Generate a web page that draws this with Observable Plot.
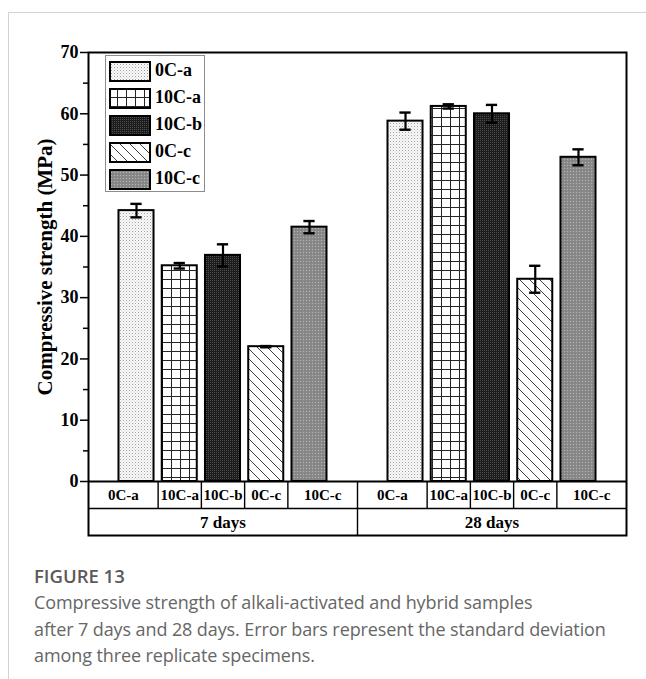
<!DOCTYPE html>
<html>
<head>
<meta charset="utf-8">
<script src="https://cdn.jsdelivr.net/npm/d3@7"></script>
<script src="https://cdn.jsdelivr.net/npm/@observablehq/plot@0.6"></script>
<style>
  html, body { margin: 0; padding: 0; background: #fff; }
  #page { position: relative; width: 646px; height: 679px; overflow: hidden; }
  #card { position: absolute; left: 8px; top: 12px; right: 0; bottom: 0;
          border-left: 1px solid #d2d2d2; border-top: 1px solid #d2d2d2; }
  #chart { position: absolute; left: 0; top: 0; }
  #legend { position: absolute; left: 105px; top: 55px; width: 100px; height: 137px;
            box-sizing: border-box; border: 1px solid #8c8c8c; background: #fff; }
  .entry { position: absolute; left: 2px; height: 20px; width: 96px; }
  .entry svg { position: absolute; left: 0; top: 0; }
  .entry span { position: absolute; left: 47px; top: -1px; line-height: 22px;
                font: bold 18px "Liberation Serif", "Times New Roman", serif; color: #000; white-space: nowrap; }
  #caption { position: absolute; left: 34px; top: 562px; width: 612px;
             font-family: "Open Sans", "Lato", sans-serif; color: #666; }
  #caption .fig { font-size: 18.5px; line-height: 27px; font-weight: 600; color: #5a5a5a; }
  #caption .txt { font-size: 18px; line-height: 26.5px; white-space: nowrap; letter-spacing: -0.1px; }
</style>
</head>
<body>
<div id="page">
  <div id="card"></div>
  <div id="chart"></div>
  <div id="legend"></div>
  <div id="caption">
    <div class="fig">FIGURE 13</div>
    <div class="txt">Compressive strength of alkali-activated and hybrid samples<br>after 7 days and 28 days. Error bars represent the standard deviation<br>among three replicate specimens.</div>
  </div>
</div>
<script>
// ---------- data ----------
const groups = ["7 days", "28 days"];
const samples = ["0C-a", "10C-a", "10C-b", "0C-c", "10C-c"];
const strength7 = [44.2, 35.2, 36.9, 22.0, 41.5];
const strength28 = [58.8, 61.2, 60.0, 33.0, 52.9];
const sd7 = [1.1, 0.45, 1.8, 0.1, 1.0];
const sd28 = [1.4, 0.35, 1.45, 2.2, 1.3];
const yTicks = [0, 10, 20, 30, 40, 50, 60, 70];
const yMinorTicks = [5, 15, 25, 35, 45, 55, 65];
const yLabel = "Compressive strength (MPa)";

// ---------- layout constants ----------
const W = 646, H = 545, ML = 88, MR = 20, MT = 52, MB = 64;
const FRAME_W = W - ML - MR;
const GROUP_STEP = 6.22;       // x units between groups
const GROUP_PAD_L = 1.11, GROUP_PAD_R = 1.11;
const BAR_HALF = 0.405, CAP_HALF = 0.13;
const ROW = 27;                // table row height (px)

const rows = groups.flatMap((g, gi) => samples.map((s, i) => ({
  group: g, gi, i, sample: s,
  pos: gi * GROUP_STEP + i,
  value: gi === 0 ? strength7[i] : strength28[i],
  sd: gi === 0 ? sd7[i] : sd28[i]
})));

const xMin = -GROUP_PAD_L;
const xMax = GROUP_STEP + (samples.length - 1) + GROUP_PAD_R;
const groupDivider = (samples.length - 1 + GROUP_STEP) / 2;
const groupBounds = (gi) => [gi === 0 ? xMin : groupDivider, gi === 0 ? groupDivider : xMax];
const cellCenter = (d) => {
  const [gl, gr] = groupBounds(d.gi);
  const l = d.i === 0 ? gl : d.pos - 0.5;
  const r = d.i === samples.length - 1 ? gr : d.pos + 0.5;
  return (l + r) / 2;
};
const cellDividers = rows.filter(d => d.i < samples.length - 1).map(d => d.pos + 0.5);
const groupCenters = groups.map((g, gi) => ({g, x: (groupBounds(gi)[0] + groupBounds(gi)[1]) / 2}));

const patIds = samples.map((s, i) => `pat${i}`);

const barMarks = samples.map((s, i) =>
  Plot.rectY(rows.filter(d => d.i === i), {
    x1: d => d.pos - BAR_HALF, x2: d => d.pos + BAR_HALF, y1: 0, y2: "value",
    fill: `url(#${patIds[i]})`, stroke: "#000", strokeWidth: 2
  })
);

const svg = Plot.plot({
  width: W, height: H,
  marginLeft: ML, marginRight: MR, marginTop: MT, marginBottom: MB,
  x: {type: "linear", domain: [xMin, xMax], axis: null},
  y: {domain: [0, 70], axis: null},
  style: {fontFamily: "'Liberation Serif', 'Times New Roman', serif", fontWeight: "bold", color: "#000", background: "transparent", overflow: "visible"},
  marks: [
    ...barMarks,
    // error bars
    Plot.ruleX(rows, {x: "pos", y1: d => d.value - d.sd, y2: d => d.value + d.sd, stroke: "#000", strokeWidth: 2.2}),
    Plot.ruleY(rows, {y: d => d.value + d.sd, x1: d => d.pos - CAP_HALF, x2: d => d.pos + CAP_HALF, stroke: "#000", strokeWidth: 2.4}),
    Plot.ruleY(rows, {y: d => d.value - d.sd, x1: d => d.pos - CAP_HALF, x2: d => d.pos + CAP_HALF, stroke: "#000", strokeWidth: 2.4}),
    // y ticks (outward)
    Plot.tickY(yTicks, {y: d => d, insetLeft: -8, insetRight: FRAME_W, stroke: "#000", strokeWidth: 1.5}),
    Plot.tickY(yMinorTicks, {y: d => d, insetLeft: -5, insetRight: FRAME_W, stroke: "#000", strokeWidth: 1.5}),
    Plot.axisY(yTicks, {tickSize: 0, tickPadding: 10, fontSize: 18, fontWeight: "bold", label: null}),
    Plot.text([yLabel], {frameAnchor: "left", dx: -43, rotate: -90, textAnchor: "middle", fontSize: 21, fontWeight: "bold", text: d => d}),
    // table below x axis
    Plot.ruleY([0], {stroke: "#000", strokeWidth: 2}),
    Plot.ruleY([0], {dy: ROW, stroke: "#000", strokeWidth: 1.4}),
    Plot.ruleX(cellDividers, {x: d => d, y1: 0, y2: 0, insetBottom: -ROW, stroke: "#000", strokeWidth: 1.4}),
    Plot.ruleX([groupDivider], {x: d => d, y1: 0, y2: 0, insetBottom: -2 * ROW, stroke: "#000", strokeWidth: 1.4}),
    Plot.text(rows, {x: cellCenter, y: 0, dy: ROW / 2 + 0.5, text: "sample", fontSize: 15, fontWeight: "bold"}),
    Plot.text(groupCenters, {x: "x", y: 0, dy: ROW * 1.5 + 0.5, text: "g", fontSize: 17, fontWeight: "bold"}),
    Plot.frame({stroke: "#000", strokeWidth: 2, insetBottom: -2 * ROW})
  ]
});

// patterns
const defs = d3.select(svg).insert("defs", ":first-child");
function pat(id, w, h) {
  return defs.append("pattern").attr("id", id).attr("patternUnits", "userSpaceOnUse").attr("width", w).attr("height", h);
}
// 0C-a: light stipple
let p = pat(patIds[0], 3, 3);
p.append("rect").attr("width", 3).attr("height", 3).attr("fill", "#f8f8f8");
p.append("rect").attr("width", 1).attr("height", 1).attr("fill", "#a2a2a2");
p.append("rect").attr("x", 1.5).attr("y", 1.5).attr("width", 1).attr("height", 1).attr("fill", "#d0d0d0");
// 10C-a: grid
p = pat(patIds[1], 9, 9);
p.append("rect").attr("width", 9).attr("height", 9).attr("fill", "#fff");
p.append("path").attr("d", "M0,0.5H9M0.5,0V9").attr("stroke", "#262626").attr("stroke-width", 1).attr("fill", "none");
// 10C-b: dark stipple
p = pat(patIds[2], 2, 2);
p.append("rect").attr("width", 2).attr("height", 2).attr("fill", "#1c1c1c");
p.append("rect").attr("width", 1).attr("height", 1).attr("fill", "#4c4c4c");
// 0C-c: diagonal hatch
p = pat(patIds[3], 10, 10);
p.append("rect").attr("width", 10).attr("height", 10).attr("fill", "#fff");
p.append("path").attr("d", "M0,0L10,10M-1,9L1,11M9,-1L11,1").attr("stroke", "#2a2a2a").attr("stroke-width", 0.9).attr("fill", "none");
// 10C-c: medium gray stipple
p = pat(patIds[4], 3, 3);
p.append("rect").attr("width", 3).attr("height", 3).attr("fill", "#8b8b8b");
p.append("rect").attr("width", 1).attr("height", 1).attr("fill", "#b4b4b4");
p.append("rect").attr("x", 1.5).attr("y", 1.5).attr("width", 1).attr("height", 1).attr("fill", "#747474");

document.getElementById("chart").appendChild(svg);

// legend
const legend = d3.select("#legend");
samples.forEach((s, i) => {
  const e = legend.append("div").attr("class", "entry").style("top", `${5 + i * 27}px`);
  const sw = e.append("svg").attr("width", 44).attr("height", 22);
  sw.append("rect").attr("x", 2).attr("y", 1).attr("width", 40).attr("height", 19)
    .attr("fill", `url(#${patIds[i]})`).attr("stroke", "#000").attr("stroke-width", 2);
  e.append("span").text(s);
});
</script>
</body>
</html>
